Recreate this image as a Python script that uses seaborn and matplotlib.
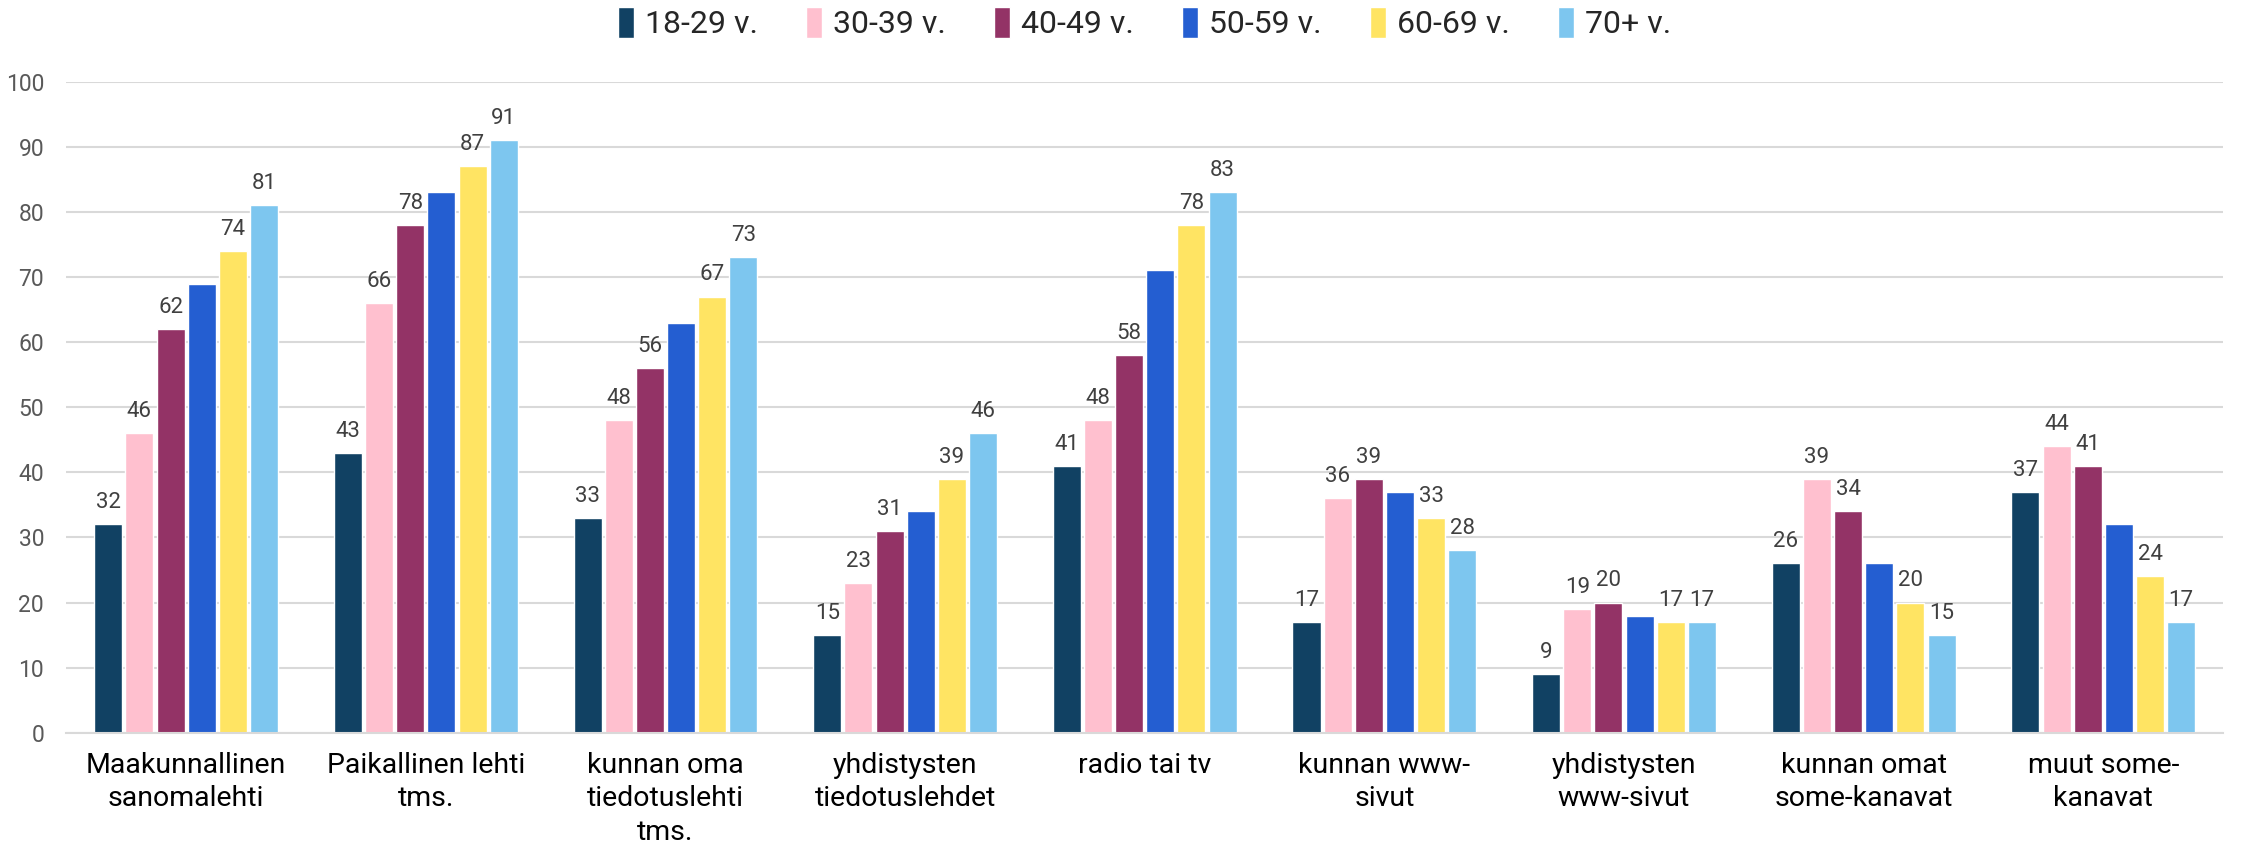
import matplotlib.pyplot as plt
import pandas as pd
import seaborn as sns

categories = [
    "Maakunnallinen\nsanomalehti",
    "Paikallinen lehti\ntms.",
    "kunnan oma\ntiedotuslehti\ntms.",
    "yhdistysten\ntiedotuslehdet",
    "radio tai tv",
    "kunnan www-\nsivut",
    "yhdistysten\nwww-sivut",
    "kunnan omat\nsome-kanavat",
    "muut some-\nkanavat",
]
age_groups = ["18-29 v.", "30-39 v.", "40-49 v.", "50-59 v.", "60-69 v.", "70+ v."]

v18_29 = [32, 43, 33, 15, 41, 17, 9, 26, 37]
v30_39 = [46, 66, 48, 23, 48, 36, 19, 39, 44]
v40_49 = [62, 78, 56, 31, 58, 39, 20, 34, 41]
v50_59 = [69, 83, 63, 34, 71, 37, 18, 26, 32]
v60_69 = [74, 87, 67, 39, 78, 33, 17, 20, 24]
v70 = [81, 91, 73, 46, 83, 28, 17, 15, 17]

# data labels shown in the reference (50-59 v. has none)
show_label = [True, True, True, False, True, True]

colors = ["#114163", "#FFC0CF", "#933366", "#245ED1", "#FFE463", "#7DC6EF"]

series = [v18_29, v30_39, v40_49, v50_59, v60_69, v70]
rows = []
for grp, vals in zip(age_groups, series):
    for cat, v in zip(categories, vals):
        rows.append({"kanava": cat, "ikä": grp, "osuus": v})
df = pd.DataFrame(rows)

FONT = ["Roboto", "DejaVu Sans"]

sns.set_style("white")
plt.rcParams["font.family"] = FONT
fig = plt.figure(figsize=(22.49, 8.51), dpi=100)
ax = fig.add_axes([0.0295, 0.139, 0.959, 0.765])

sns.barplot(data=df, x="kanava", y="osuus", hue="ikä", order=categories,
            hue_order=age_groups, palette=colors, width=0.78, gap=0.1,
            saturation=1, ax=ax, legend=True)

for cont, show in zip(ax.containers, show_label):
    if show:
        ax.bar_label(cont, fmt="%d", padding=8, fontsize=16, color="#404040")

ax.set_ylim(0, 100)
ax.set_yticks(range(0, 101, 10))
ax.set_xlim(-0.5, len(categories) - 0.5)
ax.yaxis.grid(True, color="#D9D9D9", linewidth=1.5)
ax.set_axisbelow(True)
for s in ["top", "right", "left"]:
    ax.spines[s].set_visible(False)
ax.spines["bottom"].set_color("#D9D9D9")
ax.spines["bottom"].set_linewidth(1.5)
ax.set_xlabel("")
ax.set_ylabel("")
ax.tick_params(axis="y", length=0, pad=16, labelsize=16.5, labelcolor="#595959")
ax.tick_params(axis="x", length=0, pad=14, labelsize=20.5, labelcolor="black")
for t in ax.get_xticklabels():
    t.set_linespacing(1.3)

handles, labels = ax.get_legend_handles_labels()
ax.legend(handles, labels, loc="center", bbox_to_anchor=(0.5, 1.09),
          ncol=6, frameon=False, handlelength=0.5, handleheight=1.1,
          handletextpad=0.35, columnspacing=1.5, fontsize=23)

fig.savefig("out.png", dpi=100)
